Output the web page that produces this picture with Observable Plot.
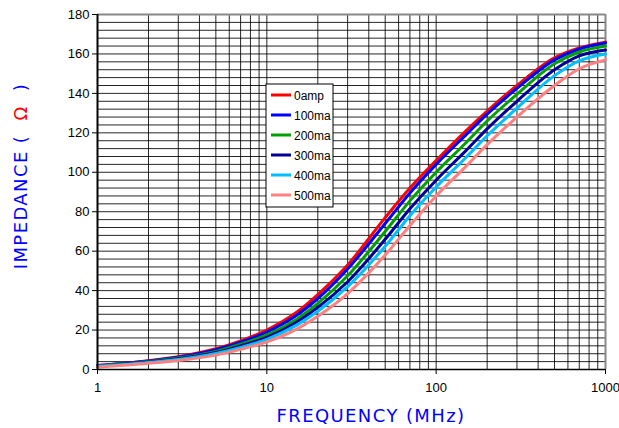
<!DOCTYPE html>
<html><head><meta charset="utf-8">
<script src="https://cdn.jsdelivr.net/npm/d3@7"></script>
<script src="https://cdn.jsdelivr.net/npm/@observablehq/plot@0.6"></script>
<style>body{margin:0;background:#fff;} svg{display:block;}</style>
</head><body><div id="chart"></div>
<script>
const freqs = [1, 2, 3, 5, 7, 10, 15, 20, 30, 50, 70, 100, 150, 200, 300, 500, 700, 1000];
const seriesNames = ["0amp", "100ma", "200ma", "300ma", "400ma", "500ma"];
const seriesColors = ["#ff0000", "#0000ff", "#00a000", "#000099", "#00bfff", "#ff8080"];
const amp0   = [2.0, 4.5, 6.5, 10.5, 14.5, 20.0, 29.0, 38.0, 53.0, 77.0, 92.0, 106.0, 121.0, 131.0, 144.0, 158.0, 163.0, 166.0];
const ma100  = [2.0, 4.3, 6.2, 10.0, 13.8, 19.0, 27.5, 36.0, 51.0, 74.0, 89.5, 104.0, 119.0, 129.5, 142.5, 157.0, 162.5, 165.5];
const ma200  = [1.8, 4.0, 5.8, 9.2, 12.8, 17.5, 25.5, 33.5, 47.5, 70.0, 85.5, 100.0, 115.0, 126.0, 139.5, 155.0, 161.0, 164.0];
const ma300  = [1.7, 3.8, 5.4, 8.6, 12.0, 16.3, 24.0, 31.5, 44.5, 66.0, 81.5, 96.0, 111.0, 122.0, 136.0, 152.0, 159.0, 162.0];
const ma400  = [1.6, 3.6, 5.1, 8.1, 11.2, 15.3, 22.5, 29.5, 42.0, 62.5, 78.0, 92.5, 107.5, 118.5, 132.5, 149.0, 156.5, 160.0];
const ma500  = [1.3, 3.2, 4.6, 7.3, 10.2, 14.0, 20.5, 27.0, 38.5, 58.0, 73.0, 88.0, 103.0, 114.0, 128.0, 144.0, 152.5, 157.0];
const yTicks = [0, 20, 40, 60, 80, 100, 120, 140, 160, 180];
const xTicks = [1, 10, 100, 1000];
const hGrid = d3.range(0, 181, 4);
const vGrid = [2,3,4,5,6,7,8,9,10,20,30,40,50,60,70,80,90,100,200,300,400,500,600,700,800,900];

const allSeries = [amp0, ma100, ma200, ma300, ma400, ma500];
const data = [];
allSeries.forEach((vals, si) => vals.forEach((v, i) => data.push({f: freqs[i], z: v, s: seriesNames[si]})));

const plot = Plot.plot({
  width: 619, height: 428,
  marginLeft: 97, marginRight: 14, marginTop: 14, marginBottom: 59,
  style: {fontFamily: "'Liberation Sans', Arial, sans-serif", fontSize: "13px", color: "#000", background: "#fff"},
  x: {type: "log", domain: [1, 1000]},
  y: {domain: [0, 180]},
  color: {domain: seriesNames, range: seriesColors},
  marks: [
    Plot.ruleY(hGrid, {y: d => d, stroke: "#000", strokeWidth: 1, strokeOpacity: 0.85}),
    Plot.ruleX(vGrid, {x: d => d, stroke: "#000", strokeWidth: 1, strokeOpacity: 0.85}),
    Plot.ruleY([180], {stroke: "#888", strokeWidth: 2}),
    Plot.ruleX([1000], {stroke: "#888", strokeWidth: 2}),
    Plot.line(data, {x: "f", y: "z", z: "s", stroke: "s", strokeWidth: 3, curve: "monotone-x"}),
    Plot.ruleX([1], {stroke: "#000", strokeWidth: 2}),
    Plot.ruleY([0], {stroke: "#000", strokeWidth: 1.5}),
    Plot.axisY({ticks: yTicks, tickSize: 5, tickPadding: 3, label: null, fontSize: 13}),
    Plot.axisX({ticks: xTicks, tickFormat: d => String(d), tickSize: 5, tickPadding: 8, label: null, fontSize: 13})
  ]
});
document.getElementById("chart").appendChild(plot);

const svg = d3.select(plot);
// x axis title
svg.append("text").attr("x", 371).attr("y", 422).attr("text-anchor", "middle")
  .attr("font-family", "'DejaVu Sans', sans-serif").attr("font-size", 18).attr("letter-spacing", 1.4).attr("fill", "#0000ff")
  .text("FREQUENCY (MHz)");
// y axis title
const yt = svg.append("text").attr("transform", "translate(27,176) rotate(-90)").attr("text-anchor", "middle")
  .attr("font-family", "'DejaVu Sans', sans-serif").attr("font-size", 18).attr("letter-spacing", 1.4).attr("fill", "#0000ff");
yt.append("tspan").text("IMPEDANCE (  ");
yt.append("tspan").attr("fill", "#ff0000").text("Ω");
yt.append("tspan").text("  )");

// legend
const lg = svg.append("g").attr("transform", "translate(266,84)");
lg.append("rect").attr("width", 67).attr("height", 123).attr("fill", "#fff").attr("stroke", "#000").attr("stroke-width", 1);
seriesNames.forEach((n, i) => {
  const yy = 11 + i * 20;
  lg.append("line").attr("x1", 5).attr("x2", 25).attr("y1", yy).attr("y2", yy).attr("stroke", seriesColors[i]).attr("stroke-width", 3);
  lg.append("text").attr("x", 28).attr("y", yy + 4.5).attr("text-anchor", "start")
    .attr("font-family", "'Liberation Sans', Arial, sans-serif").attr("font-size", 12).attr("fill", "#000").text(n);
});
</script></body></html>
